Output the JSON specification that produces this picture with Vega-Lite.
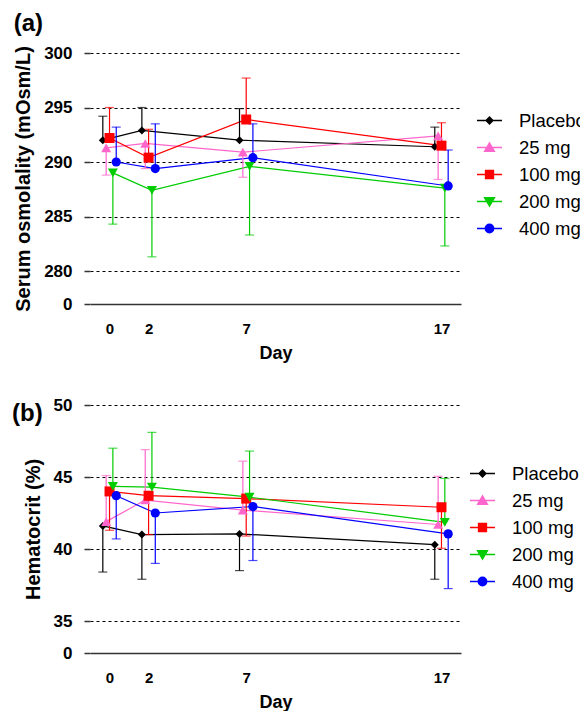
{
  "$schema": "https://vega.github.io/schema/vega-lite/v6.json",
  "padding": {"left": 12, "top": 12, "right": 0, "bottom": 0},
  "background": "white",
  "config": {
    "font": "Liberation Sans",
    "view": {"stroke": null},
    "axis": {"labelColor": "#000", "titleColor": "#000", "labelFont": "Liberation Sans", "titleFont": "Liberation Sans"},
    "legend": {"labelFont": "Liberation Sans", "orient": "none", "padding": 0, "labelFontSize": 18.5, "labelColor": "#000", "labelOffset": 16, "labelLimit": 300, "symbolSize": 625, "symbolStrokeWidth": 1.3, "symbolOpacity": 1, "rowPadding": 4}
  },
  "datasets": {
    "osm": [
      {"group": "Placebo", "day": 0, "mean": 292.0, "err": 294.2},
      {"group": "Placebo", "day": 2, "mean": 292.9, "err": 295.0},
      {"group": "Placebo", "day": 7, "mean": 292.0, "err": 294.9},
      {"group": "Placebo", "day": 17, "mean": 291.4, "err": 293.2},
      {"group": "25 mg", "day": 0, "mean": 291.3, "err": 288.8},
      {"group": "25 mg", "day": 2, "mean": 291.7, "err": 289.4},
      {"group": "25 mg", "day": 7, "mean": 290.9, "err": 288.6},
      {"group": "25 mg", "day": 17, "mean": 292.4, "err": 288.4},
      {"group": "100 mg", "day": 0, "mean": 292.2, "err": 295.0},
      {"group": "100 mg", "day": 2, "mean": 290.4, "err": 293.0},
      {"group": "100 mg", "day": 7, "mean": 293.9, "err": 297.7},
      {"group": "100 mg", "day": 17, "mean": 291.5, "err": 293.6},
      {"group": "200 mg", "day": 0, "mean": 289.0, "err": 284.3},
      {"group": "200 mg", "day": 2, "mean": 287.4, "err": 281.3},
      {"group": "200 mg", "day": 7, "mean": 289.6, "err": 283.3},
      {"group": "200 mg", "day": 17, "mean": 287.6, "err": 282.3},
      {"group": "400 mg", "day": 0, "mean": 290.0, "err": 293.2},
      {"group": "400 mg", "day": 2, "mean": 289.4, "err": 293.5},
      {"group": "400 mg", "day": 7, "mean": 290.4, "err": 293.5},
      {"group": "400 mg", "day": 17, "mean": 287.8, "err": 291.1}
    ],
    "hct": [
      {"group": "Placebo", "day": 0, "mean": 41.6, "err": 38.4},
      {"group": "Placebo", "day": 2, "mean": 41.0, "err": 37.9},
      {"group": "Placebo", "day": 7, "mean": 41.05, "err": 38.5},
      {"group": "Placebo", "day": 17, "mean": 40.3, "err": 37.9},
      {"group": "25 mg", "day": 0, "mean": 41.9, "err": 45.1},
      {"group": "25 mg", "day": 2, "mean": 43.4, "err": 46.9},
      {"group": "25 mg", "day": 7, "mean": 42.7, "err": 46.1},
      {"group": "25 mg", "day": 17, "mean": 41.7, "err": 45.05},
      {"group": "100 mg", "day": 0, "mean": 44.0, "err": 41.3},
      {"group": "100 mg", "day": 2, "mean": 43.7, "err": 41.0},
      {"group": "100 mg", "day": 7, "mean": 43.5, "err": 40.9},
      {"group": "100 mg", "day": 17, "mean": 42.9, "err": 40.05},
      {"group": "200 mg", "day": 0, "mean": 44.35, "err": 47.0},
      {"group": "200 mg", "day": 2, "mean": 44.3, "err": 48.1},
      {"group": "200 mg", "day": 7, "mean": 43.6, "err": 46.8},
      {"group": "200 mg", "day": 17, "mean": 41.85, "err": 44.9},
      {"group": "400 mg", "day": 0, "mean": 43.7, "err": 40.7},
      {"group": "400 mg", "day": 2, "mean": 42.5, "err": 39.0},
      {"group": "400 mg", "day": 7, "mean": 42.95, "err": 39.2},
      {"group": "400 mg", "day": 17, "mean": 41.05, "err": 37.25}
    ]
  },
  "vconcat": [
    {
      "title": {"text": "(a)", "anchor": "start", "frame": "bounds", "fontSize": 24, "fontWeight": "bold", "color": "#000", "offset": 8},
      "width": 371,
      "height": 251,
      "data": {"name": "osm"},
      "encoding": {
        "x": {"field": "day", "type": "quantitative", "scale": {"domain": [-1, 18], "nice": false, "zero": false},
          "axis": {"values": [0, 2, 7, 17], "ticks": false, "grid": false, "labelFontSize": 15, "labelFontWeight": "bold", "labelPadding": 17, "title": "Day", "titleFontSize": 18, "titleFontWeight": "bold", "titlePadding": 8, "domainColor": "#333", "domainWidth": 1.5}},
        "y": {"field": "mean", "type": "quantitative", "scale": {"domain": [0, 280, 300], "range": [251, 218, 0], "nice": false, "zero": false},
          "axis": {"values": [0, 280, 285, 290, 295, 300], "domain": false, "tickSize": 6, "tickColor": "#333", "tickWidth": 1.5, "labelFontSize": 17, "labelFontWeight": "bold", "labelPadding": 12, "grid": true, "gridDash": [3, 3], "gridColor": "#000", "gridOpacity": {"condition": {"test": "datum.value === 0", "value": 0}, "value": 1}, "title": "Serum osmolality (mOsm/L)", "titleFontSize": 20, "titleFontWeight": "bold", "titlePadding": 10}}
      },
      "layer": [
        {"data": {"values": [{}]}, "mark": {"type": "rule", "color": "#333", "strokeWidth": 1.5}, "encoding": {"x": {"datum": -1}, "y": {"datum": 280}, "y2": {"datum": 300}}},
        {"data": {"values": [{}]}, "mark": {"type": "rule", "color": "#333", "strokeWidth": 1.5}, "encoding": {"x": {"datum": -1}, "y": {"datum": 0}, "y2": {"datum": 136}}},
        {"data": {"values": [{}]}, "mark": {"type": "rule", "color": "#333", "strokeWidth": 1.5}, "encoding": {"x": {"datum": -1.27}, "x2": {"datum": -0.73}, "y": {"datum": 136}}},
        {"mark": {"type": "line", "strokeWidth": 1.2, "xOffset": {"expr": "datum.group === 'Placebo' ? -6.7 : datum.group === '25 mg' ? -3.35 : datum.group === '100 mg' ? 0 : datum.group === '200 mg' ? 3.35 : 6.7"}},
          "encoding": {"stroke": {"field": "group", "type": "nominal", "scale": {"domain": ["Placebo", "25 mg", "100 mg", "200 mg", "400 mg"], "range": ["#000000", "#FF66CC", "#FF0000", "#00CC00", "#0000FF"]}, "legend": {"legendX": 386, "legendY": 54, "title": null}}}},
        {"mark": {"type": "rule", "strokeWidth": 1.2, "xOffset": {"expr": "datum.group === 'Placebo' ? -6.7 : datum.group === '25 mg' ? -3.35 : datum.group === '100 mg' ? 0 : datum.group === '200 mg' ? 3.35 : 6.7"}},
          "encoding": {"y2": {"field": "err"}, "stroke": {"field": "group", "type": "nominal", "legend": {"legendX": 386, "legendY": 54, "title": null}}}},
        {"mark": {"type": "tick", "orient": "horizontal", "size": 9, "thickness": 1.2, "xOffset": {"expr": "datum.group === 'Placebo' ? -6.7 : datum.group === '25 mg' ? -3.35 : datum.group === '100 mg' ? 0 : datum.group === '200 mg' ? 3.35 : 6.7"}},
          "encoding": {"y": {"field": "err", "type": "quantitative"}, "fill": {"field": "group", "type": "nominal", "scale": {"domain": ["Placebo", "25 mg", "100 mg", "200 mg", "400 mg"], "range": ["#000000", "#FF66CC", "#FF0000", "#00CC00", "#0000FF"]}, "legend": {"legendX": 386, "legendY": 54, "title": null}}}},
        {"mark": {"type": "point", "filled": true, "opacity": 1,
            "xOffset": {"expr": "datum.group === 'Placebo' ? -6.7 : datum.group === '25 mg' ? -3.35 : datum.group === '100 mg' ? 0 : datum.group === '200 mg' ? 3.35 : 6.7"},
            "shape": {"expr": "datum.group === 'Placebo' ? 'diamond' : datum.group === '25 mg' ? 'triangle-up' : datum.group === '100 mg' ? 'square' : datum.group === '200 mg' ? 'triangle-down' : 'circle'"},
            "size": {"expr": "datum.group === 'Placebo' ? 64 : datum.group === '400 mg' ? 85 : 100"}},
          "encoding": {"fill": {"field": "group", "type": "nominal", "legend": {"legendX": 386, "legendY": 54, "title": null}}}},
        {"mark": {"type": "point", "filled": true, "opacity": 0},
          "encoding": {
            "fill": {"field": "group", "type": "nominal", "legend": {"legendX": 386, "legendY": 54, "title": null}},
            "stroke": {"field": "group", "type": "nominal", "legend": {"legendX": 386, "legendY": 54, "title": null}},
            "shape": {"field": "group", "type": "nominal", "scale": {"domain": ["Placebo", "25 mg", "100 mg", "200 mg", "400 mg"], "range": ["M-1,0H1M-0.28,0L0,-0.28L0.28,0L0,0.28Z", "M-1,0H1M0,-0.38L0.4,0.31L-0.4,0.31Z", "M-1,0H1M-0.32,-0.32H0.32V0.32H-0.32Z", "M-1,0H1M0,0.38L0.4,-0.31L-0.4,-0.31Z", "M-1,0H1M-0.34,0A0.34,0.34,0,1,1,0.34,0A0.34,0.34,0,1,1,-0.34,0Z"]},
              "legend": {"legendX": 386, "legendY": 54, "title": null}}
          }}
      ]
    },
    {
      "title": {"text": "(b)", "anchor": "start", "frame": "bounds", "fontSize": 24, "fontWeight": "bold", "color": "#000", "offset": 8, "dy": 38, "dx": -11},
      "width": 371,
      "height": 248,
      "data": {"name": "hct"},
      "encoding": {
        "x": {"field": "day", "type": "quantitative", "scale": {"domain": [-1, 18], "nice": false, "zero": false},
          "axis": {"values": [0, 2, 7, 17], "ticks": false, "grid": false, "labelFontSize": 15, "labelFontWeight": "bold", "labelPadding": 17, "title": "Day", "titleFontSize": 18, "titleFontWeight": "bold", "titlePadding": 8, "domainColor": "#333", "domainWidth": 1.5}},
        "y": {"field": "mean", "type": "quantitative", "scale": {"domain": [0, 35, 50], "range": [248, 216, 0], "nice": false, "zero": false},
          "axis": {"values": [0, 35, 40, 45, 50], "domain": false, "tickSize": 6, "tickColor": "#333", "tickWidth": 1.5, "labelFontSize": 17, "labelFontWeight": "bold", "labelPadding": 12, "grid": true, "gridDash": [3, 3], "gridColor": "#000", "gridOpacity": {"condition": {"test": "datum.value === 0", "value": 0}, "value": 1}, "title": "Hematocrit (%)", "titleFontSize": 20, "titleFontWeight": "bold", "titlePadding": 10}}
      },
      "layer": [
        {"data": {"values": [{}]}, "mark": {"type": "rule", "color": "#333", "strokeWidth": 1.5}, "encoding": {"x": {"datum": -1}, "y": {"datum": 35}, "y2": {"datum": 50}}},
        {"data": {"values": [{}]}, "mark": {"type": "rule", "color": "#333", "strokeWidth": 1.5}, "encoding": {"x": {"datum": -1}, "y": {"datum": 0}, "y2": {"datum": 15.75}}},
        {"data": {"values": [{}]}, "mark": {"type": "rule", "color": "#333", "strokeWidth": 1.5}, "encoding": {"x": {"datum": -1.27}, "x2": {"datum": -0.73}, "y": {"datum": 15.75}}},
        {"mark": {"type": "line", "strokeWidth": 1.2, "xOffset": {"expr": "datum.group === 'Placebo' ? -6.7 : datum.group === '25 mg' ? -3.35 : datum.group === '100 mg' ? 0 : datum.group === '200 mg' ? 3.35 : 6.7"}},
          "encoding": {"stroke": {"field": "group", "type": "nominal", "scale": {"domain": ["Placebo", "25 mg", "100 mg", "200 mg", "400 mg"], "range": ["#000000", "#FF66CC", "#FF0000", "#00CC00", "#0000FF"]}, "legend": {"legendX": 379, "legendY": 55, "title": null}}}},
        {"mark": {"type": "rule", "strokeWidth": 1.2, "xOffset": {"expr": "datum.group === 'Placebo' ? -6.7 : datum.group === '25 mg' ? -3.35 : datum.group === '100 mg' ? 0 : datum.group === '200 mg' ? 3.35 : 6.7"}},
          "encoding": {"y2": {"field": "err"}, "stroke": {"field": "group", "type": "nominal", "legend": {"legendX": 379, "legendY": 55, "title": null}}}},
        {"mark": {"type": "tick", "orient": "horizontal", "size": 9, "thickness": 1.2, "xOffset": {"expr": "datum.group === 'Placebo' ? -6.7 : datum.group === '25 mg' ? -3.35 : datum.group === '100 mg' ? 0 : datum.group === '200 mg' ? 3.35 : 6.7"}},
          "encoding": {"y": {"field": "err", "type": "quantitative"}, "fill": {"field": "group", "type": "nominal", "scale": {"domain": ["Placebo", "25 mg", "100 mg", "200 mg", "400 mg"], "range": ["#000000", "#FF66CC", "#FF0000", "#00CC00", "#0000FF"]}, "legend": {"legendX": 379, "legendY": 55, "title": null}}}},
        {"mark": {"type": "point", "filled": true, "opacity": 1,
            "xOffset": {"expr": "datum.group === 'Placebo' ? -6.7 : datum.group === '25 mg' ? -3.35 : datum.group === '100 mg' ? 0 : datum.group === '200 mg' ? 3.35 : 6.7"},
            "shape": {"expr": "datum.group === 'Placebo' ? 'diamond' : datum.group === '25 mg' ? 'triangle-up' : datum.group === '100 mg' ? 'square' : datum.group === '200 mg' ? 'triangle-down' : 'circle'"},
            "size": {"expr": "datum.group === 'Placebo' ? 64 : datum.group === '400 mg' ? 85 : 100"}},
          "encoding": {"fill": {"field": "group", "type": "nominal", "legend": {"legendX": 379, "legendY": 55, "title": null}}}},
        {"mark": {"type": "point", "filled": true, "opacity": 0},
          "encoding": {
            "fill": {"field": "group", "type": "nominal", "legend": {"legendX": 379, "legendY": 55, "title": null}},
            "stroke": {"field": "group", "type": "nominal", "legend": {"legendX": 379, "legendY": 55, "title": null}},
            "shape": {"field": "group", "type": "nominal", "scale": {"domain": ["Placebo", "25 mg", "100 mg", "200 mg", "400 mg"], "range": ["M-1,0H1M-0.28,0L0,-0.28L0.28,0L0,0.28Z", "M-1,0H1M0,-0.38L0.4,0.31L-0.4,0.31Z", "M-1,0H1M-0.32,-0.32H0.32V0.32H-0.32Z", "M-1,0H1M0,0.38L0.4,-0.31L-0.4,-0.31Z", "M-1,0H1M-0.34,0A0.34,0.34,0,1,1,0.34,0A0.34,0.34,0,1,1,-0.34,0Z"]},
              "legend": {"legendX": 379, "legendY": 55, "title": null}}
          }}
      ]
    }
  ],
  "spacing": 34,
  "resolve": {"scale": {"fill": "independent", "stroke": "independent", "shape": "independent"}, "legend": {"fill": "independent", "stroke": "independent", "shape": "independent"}}
}
